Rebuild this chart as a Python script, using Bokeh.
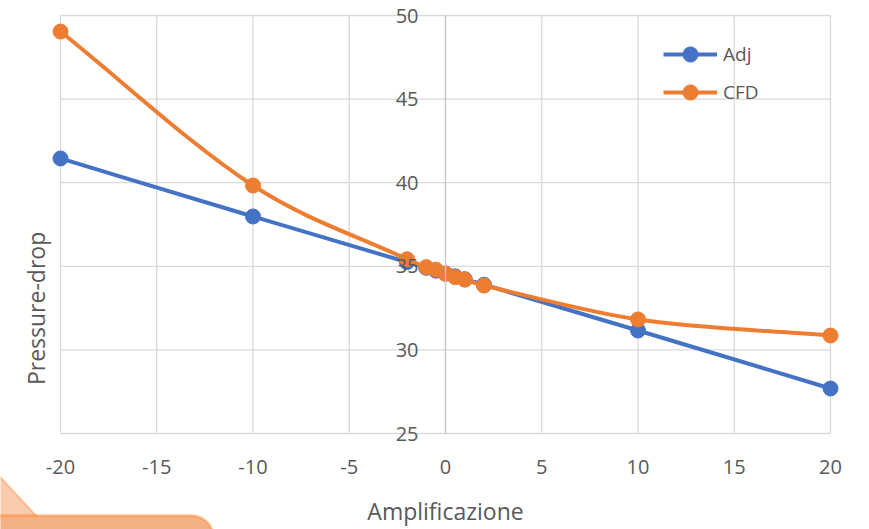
import numpy as np
from bokeh.plotting import figure
from bokeh.models import (Range1d, FixedTicker, Legend, LegendItem, Label,
                          BoxAnnotation, PolyAnnotation, LinearAxis)
from bokeh.embed import file_html
from bokeh.resources import INLINE

# ---------------- data ----------------
amplificazione = [-20, -10, -2, -1, -0.5, 0, 0.5, 1, 2, 10, 20]
adj = [41.45, 37.98, 35.25, 34.91, 34.74, 34.57, 34.40, 34.23, 33.90, 31.16, 27.69]
cfd = [49.04, 39.83, 35.42, 34.95, 34.80, 34.55, 34.35, 34.20, 33.85, 31.82, 30.86]
x_ticks = [-20, -15, -10, -5, 0, 5, 10, 15, 20]
y_ticks = [25, 30, 35, 40, 45, 50]

BLUE = "#4472C4"
ORANGE = "#ED7D31"
GRID = "#D9D9D9"
TEXT = "#595959"
FONT = "Open Sans"


def smooth_segments(xs, ys):
    """Cubic Bezier control points (Hermite, x-parametrised) for a smoothed line."""
    xs = np.asarray(xs, float)
    ys = np.asarray(ys, float)
    m = np.empty(len(xs))
    m[1:-1] = (ys[2:] - ys[:-2]) / (xs[2:] - xs[:-2])
    m[0] = (ys[1] - ys[0]) / (xs[1] - xs[0])
    m[-1] = (ys[-1] - ys[-2]) / (xs[-1] - xs[-2])
    h = np.diff(xs)
    return dict(x0=xs[:-1], y0=ys[:-1], x1=xs[1:], y1=ys[1:],
                cx0=xs[:-1] + h / 3, cy0=ys[:-1] + m[:-1] * h / 3,
                cx1=xs[1:] - h / 3, cy1=ys[1:] - m[1:] * h / 3)


# the frame fills the whole canvas; plot area spans px 60..830 x 15..433
W, H = 869, 529
PL, PR, PT, PB = 60, 830, 15, 433
px_x = (PR - PL) / (x_ticks[-1] - x_ticks[0])
px_y = (PB - PT) / (y_ticks[-1] - y_ticks[0])
x_range = Range1d(x_ticks[0] - PL / px_x, x_ticks[-1] + (W - PR) / px_x)
y_range = Range1d(y_ticks[0] - (H - PB) / px_y, y_ticks[-1] + PT / px_y)

p = figure(width=W, height=H, x_range=x_range, y_range=y_range,
           output_backend="svg", toolbar_location=None,
           x_axis_location=None, y_axis_location=None, min_border=0)
p.outline_line_color = None
p.background_fill_color = "white"
p.border_fill_color = "white"
p.grid.visible = False

# grid lines (limited to the plot area)
p.segment(x0=x_ticks, y0=y_ticks[0], x1=x_ticks, y1=y_ticks[-1],
          line_color=GRID, line_width=1.3)
p.segment(x0=x_ticks[0], y0=y_ticks, x1=x_ticks[-1], y1=y_ticks,
          line_color=GRID, line_width=1.3)

# x axis, crossing at y = 25
xax = LinearAxis(fixed_location=y_ticks[0], ticker=FixedTicker(ticks=x_ticks),
                 bounds=(x_ticks[0], x_ticks[-1]))
xax.major_label_overrides = {t: str(t) for t in x_ticks}
xax.axis_line_color = None
xax.major_tick_line_color = None
xax.minor_tick_line_color = None
xax.major_label_text_font = FONT
xax.major_label_text_font_size = "20px"
xax.major_label_text_color = TEXT
xax.major_label_standoff = 20
xax.axis_label = "Amplificazione"
xax.axis_label_text_font = FONT
xax.axis_label_text_font_size = "23px"
xax.axis_label_text_font_style = "normal"
xax.axis_label_text_color = TEXT
xax.axis_label_standoff = 18
p.add_layout(xax, "below")

# y axis, crossing at x = 0 (Excel style)
yax = LinearAxis(fixed_location=0, ticker=FixedTicker(ticks=y_ticks),
                 bounds=(y_ticks[0], y_ticks[-1]))
yax.axis_line_color = "#C8C8C8"
yax.axis_line_width = 1.3
yax.major_tick_line_color = None
yax.minor_tick_line_color = None
yax.major_label_text_font = FONT
yax.major_label_text_font_size = "20px"
yax.major_label_text_color = TEXT
yax.major_label_standoff = 21
yax.major_label_orientation = "horizontal"
p.add_layout(yax, "left")

# series
adj_line = p.bezier(line_color=BLUE, line_width=4, **smooth_segments(amplificazione, adj))
adj_pts = p.scatter(amplificazione, adj, size=15, marker="circle",
                    fill_color=BLUE, line_color=BLUE)
cfd_line = p.bezier(line_color=ORANGE, line_width=4, **smooth_segments(amplificazione, cfd))
cfd_pts = p.scatter(amplificazione, cfd, size=15, marker="circle",
                    fill_color=ORANGE, line_color=ORANGE)

# y axis title
p.add_layout(Label(x=x_ticks[0], y=32.48, x_offset=-25, text="Pressure-drop",
                   angle=np.pi / 2, text_align="center", text_baseline="middle",
                   text_font=FONT, text_font_size="23px", text_color=TEXT))

# legend
legend = Legend(items=[LegendItem(label="Adj", renderers=[adj_line, adj_pts]),
                       LegendItem(label="CFD", renderers=[cfd_line, cfd_pts])],
                location=(663, 418), orientation="vertical",
                glyph_width=54, glyph_height=38, label_height=38, spacing=0,
                label_standoff=6, padding=0, margin=0,
                border_line_color=None, background_fill_alpha=0,
                label_text_font=FONT, label_text_font_size="19px",
                label_text_color=TEXT)
p.add_layout(legend)

# orange callout shape peeking in at the bottom-left corner
p.add_layout(PolyAnnotation(xs=[-20, 40, -20], ys=[455, 520, 520],
                            xs_units="canvas", ys_units="canvas",
                            fill_color="#F8CBAD", fill_alpha=1,
                            line_color="#FF6A00", line_width=2))
p.add_layout(BoxAnnotation(left=-30, right=213, top=515, bottom=570,
                           left_units="canvas", right_units="canvas",
                           top_units="canvas", bottom_units="canvas",
                           fill_color="#F4B183", fill_alpha=1,
                           line_color="#FF6A00", line_width=3,
                           border_radius=22))

open("out.html", "w").write(file_html(p, INLINE))
